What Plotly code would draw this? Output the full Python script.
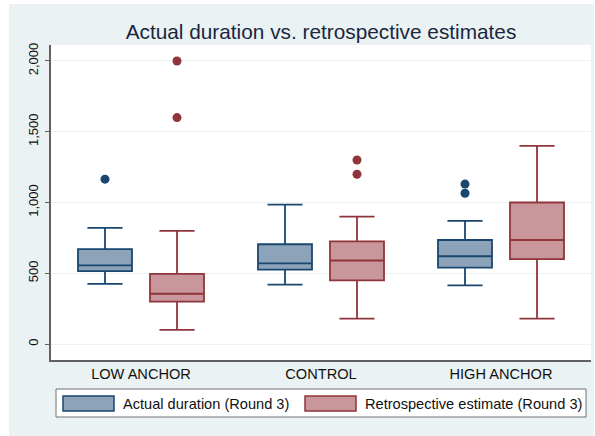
import plotly.graph_objects as go

# ---- data ----
categories = ["LOW ANCHOR", "CONTROL", "HIGH ANCHOR"]

actual_lower = [425, 420, 415]
actual_q1 = [515, 525, 540]
actual_median = [555, 570, 620]
actual_q3 = [670, 705, 735]
actual_upper = [820, 985, 870]
actual_outliers = [[1165], [], [1065, 1130]]

retro_lower = [100, 180, 180]
retro_q1 = [300, 450, 600]
retro_median = [355, 590, 735]
retro_q3 = [495, 725, 1000]
retro_upper = [800, 900, 1400]
retro_outliers = [[1600, 2000], [1200, 1300], []]

y_ticks = [0, 500, 1000, 1500, 2000]
y_tick_labels = ["0", "500", "1,000", "1,500", "2,000"]
series_names = ["Actual duration (Round 3)", "Retrospective estimate (Round 3)"]

# ---- style ----
W, H = 595, 436
ML, MR, MT, MB = 51, 4, 45, 76
PW, PH = W - ML - MR, H - MT - MB
BLUE_LINE, BLUE_FILL = "#1A476F", "#8DA3B9"
RED_LINE, RED_FILL = "#90353B", "#C9979B"
OUTER_BG = "#EAF2F3"
FONT = "Liberation Sans, Arial, sans-serif"
OFFSET, BOXW = 0.2, 0.3


def px2x(px):
    return (px - ML) / PW


def px2y(py):
    return (H - MB - py) / PH


fig = go.Figure()
pos = list(range(len(categories)))

series = [
    (actual_lower, actual_q1, actual_median, actual_q3, actual_upper, actual_outliers, -OFFSET, BLUE_LINE, BLUE_FILL, series_names[0]),
    (retro_lower, retro_q1, retro_median, retro_q3, retro_upper, retro_outliers, OFFSET, RED_LINE, RED_FILL, series_names[1]),
]

for lo, q1, med, q3, up, outs, off, lc, fc, name in series:
    xs = [p + off for p in pos]
    fig.add_trace(go.Box(
        x=xs, lowerfence=lo, q1=q1, median=med, q3=q3, upperfence=up,
        width=BOXW, whiskerwidth=0.65, boxpoints=False,
        line=dict(color=lc, width=1.8), fillcolor=fc, name=name,
        showlegend=False, hoverinfo="skip",
    ))
    ox, oy = [], []
    for p, vals in zip(pos, outs):
        for v in vals:
            ox.append(p + off)
            oy.append(v)
    fig.add_trace(go.Scatter(
        x=ox, y=oy, mode="markers",
        marker=dict(color=lc, size=9, line=dict(width=0)),
        showlegend=False, hoverinfo="skip",
    ))

shapes = [
    # outer light region
    dict(type="rect", xref="paper", yref="paper", layer="below",
         x0=px2x(9), x1=px2x(594), y0=px2y(436), y1=px2y(4),
         fillcolor=OUTER_BG, line=dict(width=0)),
    # white plot region
    dict(type="rect", xref="paper", yref="paper", layer="below",
         x0=0, x1=1, y0=0, y1=1, fillcolor="white", line=dict(width=0)),
    # legend box
    dict(type="rect", xref="paper", yref="paper",
         x0=px2x(56), x1=px2x(586), y0=px2y(417), y1=px2y(389),
         fillcolor="white", line=dict(color="#707070", width=1)),
    dict(type="rect", xref="paper", yref="paper",
         x0=px2x(63), x1=px2x(114), y0=px2y(411), y1=px2y(396),
         fillcolor=BLUE_FILL, line=dict(color=BLUE_LINE, width=1.5)),
    dict(type="rect", xref="paper", yref="paper",
         x0=px2x(305), x1=px2x(356), y0=px2y(411), y1=px2y(396),
         fillcolor=RED_FILL, line=dict(color=RED_LINE, width=1.5)),
]

annotations = [
    dict(text=series_names[0], xref="paper", yref="paper", x=px2x(121), y=px2y(403.5),
         xanchor="left", yanchor="middle", showarrow=False,
         font=dict(family=FONT, size=14.6, color="#111111")),
    dict(text=series_names[1], xref="paper", yref="paper", x=px2x(363), y=px2y(403.5),
         xanchor="left", yanchor="middle", showarrow=False,
         font=dict(family=FONT, size=14.6, color="#111111")),
]

fig.update_layout(
    width=W, height=H,
    margin=dict(l=ML, r=MR, t=MT, b=MB, pad=0),
    paper_bgcolor="white", plot_bgcolor="rgba(0,0,0,0)",
    showlegend=False,
    title=dict(text="Actual duration vs. retrospective estimates",
               x=(ML + 0.5 * PW) / W, xanchor="center",
               y=1 - 32 / H, yanchor="middle",
               font=dict(family=FONT, size=20.8, color="#1A2640")),
    shapes=shapes, annotations=annotations,
    font=dict(family=FONT),
)

fig.update_xaxes(
    range=[-0.5, 2.5], tickvals=pos, ticktext=categories,
    showgrid=False, zeroline=False, ticks="",
    showline=True, linecolor="#606060", linewidth=1.5,
    tickfont=dict(family=FONT, size=14.6, color="#111111"),
    fixedrange=True,
)
fig.update_yaxes(
    range=[-113, 2113], tickvals=y_ticks, ticktext=y_tick_labels,
    tickangle=-90, showgrid=True, gridcolor=OUTER_BG, gridwidth=1,
    zeroline=False, ticks="outside", ticklen=4, tickcolor="#606060",
    ticklabelstandoff=2,
    showline=True, linecolor="#606060", linewidth=1.5,
    tickfont=dict(family=FONT, size=13, color="#111111"),
    fixedrange=True,
)

fig.write_html("out.html")
